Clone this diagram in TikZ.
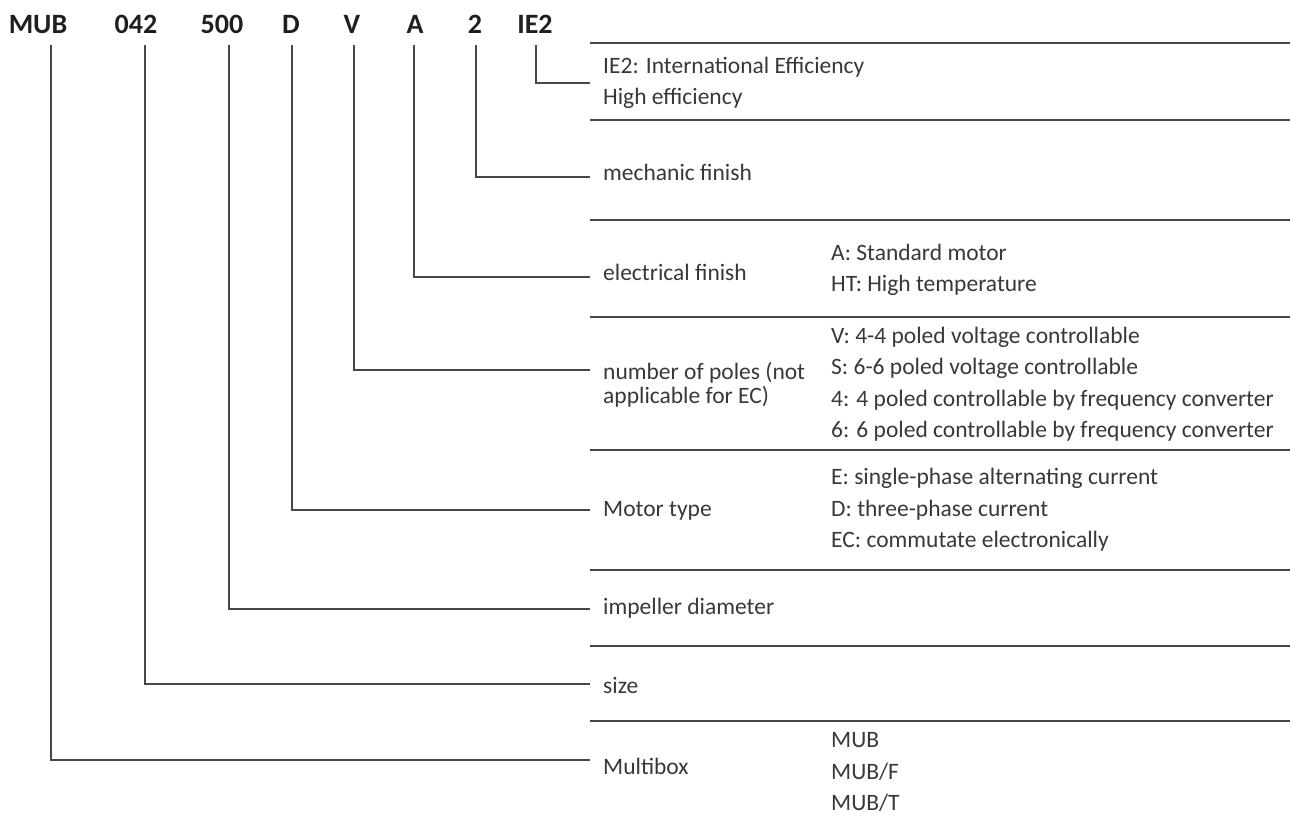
\documentclass[tikz,border=0pt]{standalone}
\usepackage{fontspec}
\setmainfont{Carlito}
\usetikzlibrary{positioning}

\begin{document}
\begin{tikzpicture}[x=1pt,y=-1pt,
  code/.style={font=\fontsize{28}{30}\selectfont\bfseries,text=black!88,inner xsep=0pt,inner ysep=12pt,text height=19pt,text depth=0pt,anchor=base},
  lbl/.style={font=\fontsize{23.5}{31.5}\selectfont,text=black!78,anchor=west,inner xsep=13pt,inner ysep=0pt,align=left},
  opt/.style={lbl,inner xsep=0pt},
  sep/.style={draw=black!72,line width=1.4pt},
  lead/.style={draw=black!72,line width=1.2pt}
]
\useasboundingbox (0,0) rectangle (1290,819);

% type code
\node[code] (mub) at (38,33) {MUB};
\node[code] (size) at (136,33) {042};
\node[code] (dia) at (222,33) {500};
\node[code] (mot) at (291,33) {D};
\node[code] (pol) at (352,33) {V};
\node[code] (ele) at (415,33) {A};
\node[code] (mec) at (475,33) {2};
\node[code] (eff) at (535,33) {IE2};

% rows
\foreach \y in {43,120,220,317,450,570,646,721}
  \draw[sep] (590,\y) -- (1290,\y);

\node[lbl] (leff) at (590,83) {IE2: International Efficiency\\High efficiency};
\node[lbl] (lmec) at (590,172) {mechanic finish};
\node[lbl] (lele) at (590,272) {electrical finish};
\node[opt] (oele) at (831,270) {A: Standard motor\\HT: High temperature};
\node[lbl,font=\fontsize{23.5}{24}\selectfont] (lpol) at (590,385) {number of poles (not\\applicable for EC)};
\node[opt] (opol) at (831,384) {V: 4-4 poled voltage controllable\\S: 6-6 poled voltage controllable\\4: 4 poled controllable by frequency converter\\6: 6 poled controllable by frequency converter};
\node[lbl] (lmot) at (590,511) {Motor type};
\node[opt] (omot) at (831,510) {E: single-phase alternating current\\D: three-phase current\\EC: commutate electronically};
\node[lbl] (ldia) at (590,608) {impeller diameter};
\node[lbl] (lsize) at (590,685) {size};
\node[lbl] (lmub) at (590,766) {Multibox};
\node[opt] (omub) at (831,772) {MUB\\MUB/F\\MUB/T};

% leaders
\draw[lead] ([xshift=1pt]eff.south) |- (leff.west);
\draw[lead] ([xshift=1pt]mec.south) |- ([yshift=-5pt]lmec.west);
\draw[lead] ([xshift=-1pt]ele.south) |- ([yshift=-5pt]lele.west);
\draw[lead] ([xshift=2pt]pol.south) |- ([yshift=15pt]lpol.west);
\draw[lead] ([xshift=1pt]mot.south) |- ([yshift=1pt]lmot.west);
\draw[lead] ([xshift=7pt]dia.south) |- ([yshift=-1pt]ldia.west);
\draw[lead] ([xshift=9pt]size.south) |- ([yshift=1pt]lsize.west);
\draw[lead] ([xshift=13pt]mub.south) |- ([yshift=6pt]lmub.west);
\end{tikzpicture}
\end{document}
